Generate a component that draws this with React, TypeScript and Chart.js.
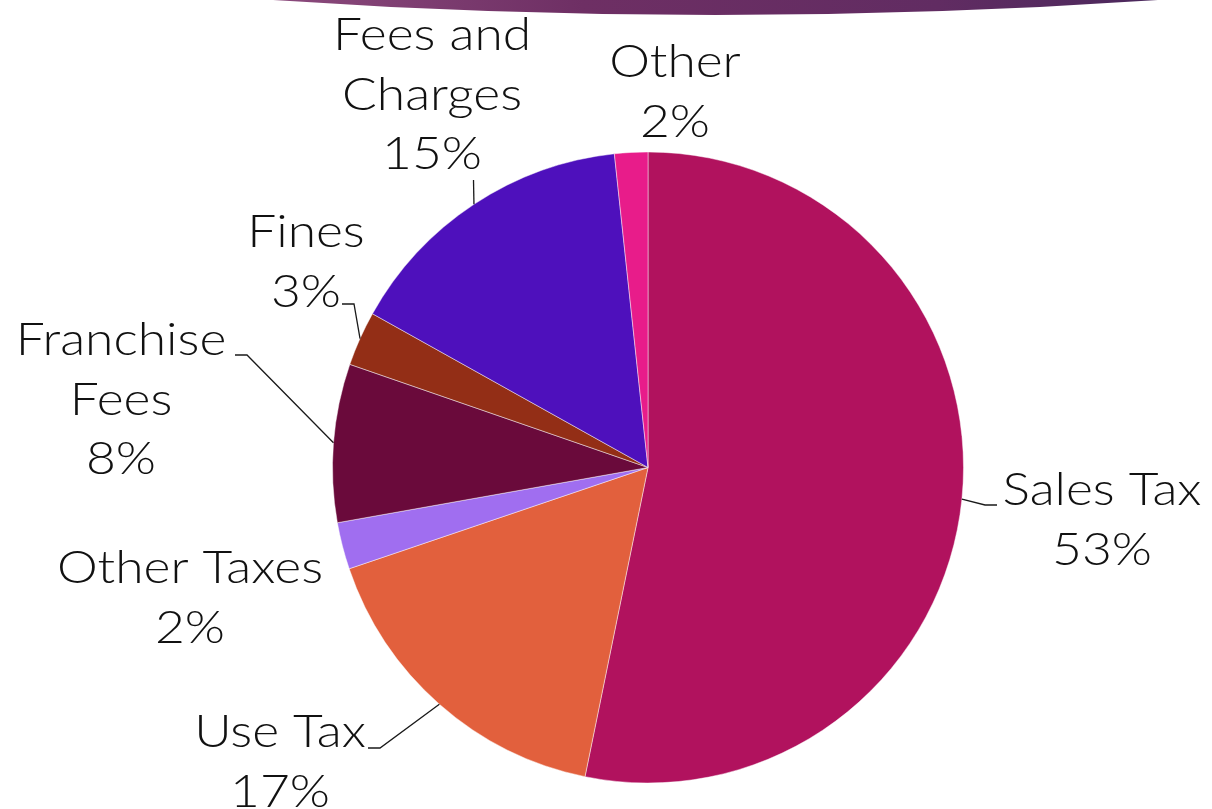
import React, { useEffect, useRef } from "react";
import { Chart, registerables } from "chart.js";

Chart.register(...registerables);

const categories = ["Sales Tax", "Use Tax", "Other Taxes", "Franchise Fees", "Fines", "Fees and Charges", "Other"];
const values = [53.2, 16.6, 2.4, 8.1, 2.8, 15.2, 1.7];
const colors = ["#B1125E", "#E2603D", "#A06EF0", "#6A0A3B", "#932E16", "#4E10BC", "#E81C8A"];
const labelLines = [["Sales Tax"], ["Use Tax"], ["Other Taxes"], ["Franchise", "Fees"], ["Fines"], ["Fees and", "Charges"], ["Other"]];

// label layout (style): center x, first baseline y, leader path after the arc edge point
const labelLayout = [
  { x: 1102, y: 505, leader: [[985, 505], [997, 505]] },
  { x: 280, y: 747, leader: [[380, 748], [368, 748]] },
  { x: 190, y: 583, leader: null },
  { x: 121, y: 355, leader: [[247, 355], [235, 355]] },
  { x: 306, y: 247, leader: [[354, 304], [342, 304]] },
  { x: 432, y: 50, leader: [[473.5, 180]] },
  { x: 675, y: 77, leader: null },
];

const FONT = "300 46px 'Century Gothic', 'Lato', sans-serif";
const LINE_H = 59.5;
const X_STRETCH = 1.12;

const labelPlugin = {
  id: "outLabels",
  beforeDraw(chart: any) {
    const ctx = chart.ctx;
    ctx.save();
    const g = ctx.createLinearGradient(273, 0, 1158, 0);
    g.addColorStop(0, "#8B4A7C");
    g.addColorStop(0.35, "#6E2F64");
    g.addColorStop(0.75, "#612C62");
    g.addColorStop(1, "#4A285C");
    ctx.fillStyle = g;
    ctx.beginPath();
    ctx.moveTo(273, 0);
    ctx.quadraticCurveTo(715, 30, 1158, 0);
    ctx.closePath();
    ctx.fill();
    ctx.restore();
  },
  afterDatasetsDraw(chart: any) {
    const ctx = chart.ctx;
    const meta = chart.getDatasetMeta(0);
    const data = chart.data.datasets[0].data as number[];
    const total = data.reduce((a, b) => a + b, 0);
    ctx.save();
    meta.data.forEach((arc: any, i: number) => {
      const p = arc.getProps(["x", "y", "startAngle", "endAngle", "outerRadius"], true);
      const mid = (p.startAngle + p.endAngle) / 2;
      const sx = p.x + Math.cos(mid) * p.outerRadius;
      const sy = p.y + Math.sin(mid) * p.outerRadius;
      const lay = labelLayout[i];
      if (lay.leader) {
        ctx.strokeStyle = "#1a1a1a";
        ctx.lineWidth = 1.3;
        ctx.beginPath();
        ctx.moveTo(sx, sy);
        lay.leader.forEach((pt) => ctx.lineTo(pt[0], pt[1]));
        ctx.stroke();
      }
      const pct = Math.round((data[i] / total) * 100) + "%";
      const lines = [...labelLines[i], pct];
      ctx.fillStyle = "#111";
      ctx.font = FONT;
      ctx.textAlign = "center";
      ctx.textBaseline = "alphabetic";
      lines.forEach((t, k) => {
        ctx.save();
        ctx.translate(lay.x, lay.y + k * LINE_H);
        ctx.scale(X_STRETCH, 1);
        ctx.fillText(t, 0, 0);
        ctx.restore();
      });
    });
    ctx.restore();
  },
};

export default function App() {
  const ref = useRef<HTMLCanvasElement>(null);
  useEffect(() => {
    if (!ref.current) return;
    const chart = new Chart(ref.current, {
      type: "pie",
      data: {
        labels: categories,
        datasets: [
          {
            data: values,
            backgroundColor: colors,
            borderColor: "rgba(255,255,255,0.45)",
            borderWidth: 1,
          },
        ],
      },
      options: {
        animation: false,
        responsive: true,
        maintainAspectRatio: false,
        layout: { padding: { left: 332, right: 248, top: 151, bottom: 25 } },
        plugins: { legend: { display: false }, tooltip: { enabled: false } },
      },
      plugins: [labelPlugin],
    });
    return () => chart.destroy();
  }, []);
  return (
    <div style={{ position: "absolute", left: 0, top: 0, width: 1212, height: 809, background: "#fff" }}>
      <canvas ref={ref} />
    </div>
  );
}
